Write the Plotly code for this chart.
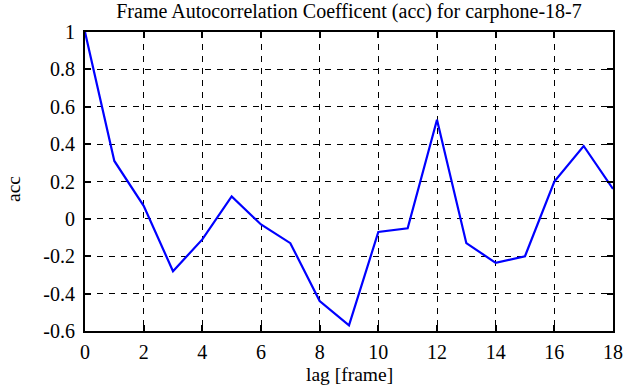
import plotly.graph_objects as go

lags = list(range(19))
acc = [1.0, 0.31, 0.07, -0.28, -0.11, 0.12, -0.03, -0.13, -0.44, -0.57,
       -0.07, -0.05, 0.53, -0.13, -0.235, -0.2, 0.2, 0.39, 0.16]
x_ticks = [0, 2, 4, 6, 8, 10, 12, 14, 16, 18]
y_ticks = [-0.6, -0.4, -0.2, 0, 0.2, 0.4, 0.6, 0.8, 1]
y_tick_text = ["-0.6", "-0.4", "-0.2", "0", "0.2", "0.4", "0.6", "0.8", "1"]

font = "Liberation Serif, Times New Roman, serif"

fig = go.Figure()
fig.add_trace(go.Scatter(x=lags, y=acc, mode="lines",
                         line=dict(color="#0000ff", width=2.2),
                         showlegend=False, cliponaxis=False))

axis_common = dict(
    showline=True, linecolor="black", linewidth=2, mirror="ticks",
    ticks="inside", ticklen=6, tickwidth=1.5, tickcolor="black",
    showgrid=True, gridcolor="black", gridwidth=1, griddash="6px,6px",
    zeroline=False, automargin=False,
    tickfont=dict(family=font, size=20, color="black"),
)

fig.update_layout(
    width=641, height=387,
    margin=dict(l=85, r=28, t=32, b=56, autoexpand=False),
    paper_bgcolor="white", plot_bgcolor="white",
    title=dict(text="Frame Autocorrelation Coefficent (acc) for carphone-18-7",
               x=349 / 641, xanchor="center", y=1 - 11 / 387, yanchor="middle",
               font=dict(family=font, size=20, color="black")),
    xaxis=dict(range=[0, 18], tickvals=x_ticks, ticklabelstandoff=2, **axis_common),
    yaxis=dict(range=[-0.6, 1], tickvals=y_ticks, ticktext=y_tick_text,
               ticklabelstandoff=4, **axis_common),
    annotations=[
        dict(text="lag [frame]", xref="paper", yref="paper", x=0.5, y=-44 / 299,
             xanchor="center", yanchor="middle", showarrow=False,
             font=dict(family=font, size=19.5, color="black")),
        dict(text="acc", xref="paper", yref="paper", x=-72 / 528, y=(331 - 189) / 299,
             xanchor="center", yanchor="middle", showarrow=False, textangle=-90,
             font=dict(family=font, size=19.5, color="black")),
    ],
)

fig.write_html("out.html", config={"displayModeBar": False},
               post_script="document.body.style.margin='0';")
